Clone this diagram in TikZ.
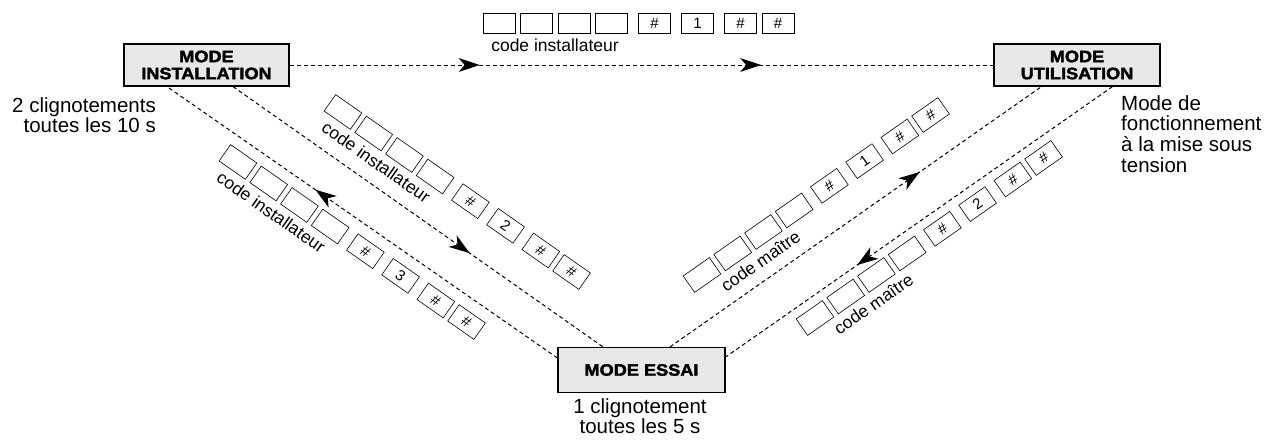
\documentclass[tikz,border=0pt]{standalone}
\usepackage{fontspec}
\setmainfont{Liberation Sans}
\newfontfamily\blk{Liberation Sans}[BoldFeatures={FakeStretch=1.1,FakeBold=2.2}]
\usetikzlibrary{arrows.meta,decorations.markings}
\definecolor{boxfill}{RGB}{232,232,232}
\tikzset{
  bigtip/.tip={Stealth[length=21pt,width=14pt,inset=6pt]},
  modebox/.style={draw=black,line width=1.2pt,fill=boxfill,inner sep=0pt,align=center,
    font=\blk\bfseries\fontsize{16.5}{17}\selectfont},
  txt/.style={inner sep=0pt,font=\fontsize{20.5}{20.8}\selectfont},
  key/.style={draw=black,line width=0.6pt,minimum width=32pt,minimum height=20pt,inner sep=0pt,
    font=\fontsize{15}{15}\selectfont},
  keylab/.style={inner sep=0pt,font=\fontsize{17.5}{18}\selectfont},
  dline/.style={line width=1pt,dash pattern=on 4pt off 3pt},
  midarrow/.style={postaction={decorate,decoration={markings,
    mark=at position #1 with {\arrow{bigtip}}}}},
}
\newcommand\keyrow[6]{%
  \begin{scope}[shift={(#2,#3)},rotate=#4]
    \foreach \ki/\kd/\kt in {1/0/{},2/37.5/{},3/75/{},4/112.5/{},5/155.5/{\#},6/198.5/{#5},7/241.5/{\#},8/279/{\#}}
      \node[key,rotate=#4] (#1-\ki) at (\kd,0) {\kt};
    \node[keylab,rotate=#4] (#1-lab) at (56,22) {#6};
  \end{scope}}
\begin{document}
\begin{tikzpicture}[x=1pt,y=-1pt]
\useasboundingbox (0,0) rectangle (1265,439);
% mode boxes
\node[modebox,minimum width=165pt,minimum height=42pt] (inst) at (206.5,65) {MODE\\INSTALLATION};
\node[modebox,minimum width=166pt,minimum height=42pt] (util) at (1077,65) {MODE\\UTILISATION};
\node[modebox,minimum width=167pt,minimum height=45pt] (essai) at (641.5,370) {MODE ESSAI};
% texts
\node[txt,anchor=north east,align=right] (tinst) at (156,97) {2 clignotements\\toutes les 10 s};
\node[txt,anchor=north west,align=left] (tutil) at (1121,95) {Mode de\\fonctionnement\\à la mise sous\\tension};
\node[txt,anchor=north,align=center] (tessai) at (640,398) {1 clignotement\\toutes les 5 s};
% connectors
\draw[dline,midarrow=0.27,midarrow=0.67] (inst.east) -- (util.west);
\draw[dline,midarrow=0.64] ([xshift=26.5pt]inst.south) -- ([xshift=-38.5pt]essai.north);
\draw[dline,midarrow=0.62] ([yshift=12pt]essai.west) -- ([xshift=-39.5pt]inst.south);
\draw[dline,midarrow=0.672] ([xshift=28.5pt]essai.north) -- ([xshift=-35.5pt]util.south);
\draw[dline,midarrow=0.66] ([xshift=35.5pt]util.south) -- ([yshift=13pt]essai.east);
% key rows
\keyrow{top}{499}{23}{0}{1}{code installateur}
\keyrow{ula}{343}{112}{-35}{2}{code installateur}
\keyrow{ulb}{238}{162}{-35}{3}{code installateur}
\keyrow{ura}{702}{275}{35}{1}{code maître}
\keyrow{urb}{815}{318}{35}{2}{code maître}
\end{tikzpicture}
\end{document}
